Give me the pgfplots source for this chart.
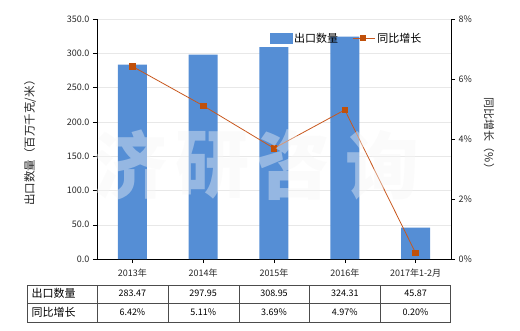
\documentclass[border=0pt]{standalone}
\usepackage{pgfplots}
\pgfplotsset{compat=1.18}
\usepackage{fontspec}
\setmainfont{Noto Sans CJK SC}
\definecolor{barblue}{HTML}{558ED5}
\definecolor{lineor}{HTML}{C8581E}
\definecolor{markor}{HTML}{C0500A}
\definecolor{wm}{RGB}{246,246,246}
\begin{document}
\begin{tikzpicture}[x=1pt,y=1pt]
\useasboundingbox (0,0) rectangle (520,330);
\begin{axis}[
 scale only axis, width=354pt, height=240pt, at={(97pt,71pt)}, anchor=south west,
 xmin=-0.5, xmax=4.5, ymin=0, ymax=350,
 axis x line*=bottom, axis y line*=left, axis line style={-, black},
 ytick={0,50,...,350},
 yticklabel style={/pgf/number format/.cd, fixed, fixed zerofill, precision=1},
 /pgf/number format/assume math mode=true,
 xtick={0,...,4}, xticklabels={2013年,2014年,2015年,2016年,2017年1-2月},
 tick align=outside, major tick length=4pt, tick style={black},
 ymajorgrids, grid style={gray!18},
 every tick label/.append style={font=\fontsize{9}{10}\selectfont, text=black!85},
 xticklabel style={yshift=-2pt},
 clip=false,
]
\addplot[ybar, bar width=29pt, fill=barblue, draw=none] coordinates {(0,283.47) (1,297.95) (2,308.95) (3,324.31) (4,45.87)};
\end{axis}
\begin{axis}[
 scale only axis, width=354pt, height=240pt, at={(97pt,71pt)}, anchor=south west,
 xmin=-0.5, xmax=4.5, ymin=0, ymax=8,
 axis y line*=right, axis x line=none, axis line style={-, black},
 ytick={0,2,...,8}, yticklabel={\pgfmathprintnumber{\tick}\%},
 /pgf/number format/assume math mode=true,
 tick align=outside, major tick length=4pt, tick style={black},
 every tick label/.append style={font=\fontsize{9}{10}\selectfont, text=black!85},
 legend style={draw=none, fill=none, at={(0.705,0.92)}, anchor=center, font=\fontsize{11}{12}\selectfont, /tikz/every even column/.append style={column sep=12pt}},
 legend columns=2,
 legend image code/.code={\draw[lineor, line width=1.2pt] (0pt,0pt) -- (22pt,0pt); \fill[markor] (8pt,-2.5pt) rectangle (13pt,2.5pt);},
 clip=false,
]
\addlegendimage{legend image code/.code={\fill[barblue] (0pt,-5pt) rectangle (22pt,5pt);}}
\addlegendentry{出口数量}
\addplot[lineor, line width=0.8pt, mark=square*, mark size=2.8pt, mark options={fill=markor, draw=markor}] coordinates {(0,6.42) (1,5.11) (2,3.69) (3,4.97) (4,0.20)};
\addlegendentry{同比增长}
\end{axis}
% watermark
\begin{scope}[opacity=0.4]
\foreach \c/\x in {济/130, 研/212, 咨/293, 询/382}
 \node[text=wm, font=\fontsize{74}{74}\selectfont\bfseries] at (\x,165) {\c};
\end{scope}
% axis labels
\node[rotate=90, font=\fontsize{11.5}{12}\selectfont, text=black!85] at (30,190) {出口数量（百万千克/米）};
\node[rotate=-90, font=\fontsize{11}{12}\selectfont, text=black!85] at (489,194) {同比增长（\%）};
% table
\draw[black!70, line width=0.6pt] (27,45) rectangle (450,8);
\draw[black!70, line width=0.6pt] (27,27) -- (450,27);
\foreach \x in {97,168,239,309,380} \draw[black!70, line width=0.6pt] (\x,45) -- (\x,8);
\node[anchor=west, font=\fontsize{11}{12}\selectfont] at (28,36.5) {出口数量};
\node[anchor=west, font=\fontsize{11}{12}\selectfont] at (28,17.5) {同比增长};
\foreach \x/\v/\p in {132.4/283.47/6.42\%, 203.2/297.95/5.11\%, 274/308.95/3.69\%, 344.8/324.31/4.97\%, 415.6/45.87/0.20\%}{
 \node[font=\fontsize{9}{10}\selectfont] at (\x,36.5) {\v};
 \node[font=\fontsize{9}{10}\selectfont] at (\x,17.5) {\p};
}
\end{tikzpicture}
\end{document}
